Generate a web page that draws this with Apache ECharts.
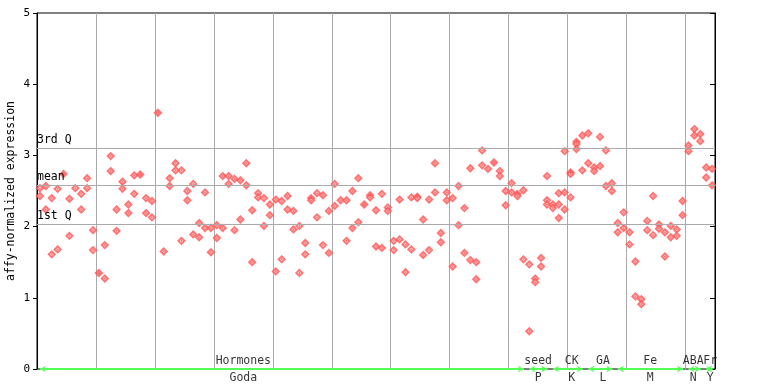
<!DOCTYPE html>
<html>
<head>
<meta charset="utf-8">
<script src="https://cdn.jsdelivr.net/npm/echarts@6/dist/echarts.min.js"></script>
<style>
html,body{margin:0;padding:0;background:#fff;}
#chart{width:768px;height:384px;}
</style>
</head>
<body>
<div id="chart"></div>
<script>
// ---- data: per-sample replicate values, split by experiment group ----
const yAxisTitle = 'affy-normalized expression';
const groupTop    = ['Hormones','seed','CK','GA','Fe','ABA','Fr'];
const groupBottom = ['Goda','P','K','L','M','N','Y'];
const groupLabelAt = [35, 85, 90.7, 96, 104, 111.3, 114.2];

const hormonesValues = [
  [2.54,2.43],[2.57,2.24],[2.40,1.61],[2.53,1.68],[2.74],[2.39,1.87],[2.54],[2.46,2.24],[2.68,2.54],[1.95,1.67],
  [1.35],[1.74,1.27],[2.99,2.78],[2.24,1.94],[2.63,2.53],[2.31,2.19],[2.72,2.46],[2.73],[2.40,2.19],[2.36,2.13],
  [3.60],[1.65],[2.68,2.57],[2.89,2.79],[2.79,1.80],[2.50,2.37],[2.60,1.89],[2.05,1.85],[2.48,1.98],[1.98,1.64],
  [2.02,1.84],[2.71,1.98],[2.71,2.60],[2.67,1.95],[2.65,2.10],[2.89,2.58],[2.23,1.50],[2.47,2.41],[2.40,2.01],[2.31,2.16],
  [2.38,1.37],[2.36,1.54],[2.43,2.24],[2.22,1.96],[2.01,1.35],[1.77,1.61],[2.40,2.37],[2.47,2.13],[2.44,1.74],[2.22,1.63],
  [2.60,2.29],[2.37],[2.37,1.80],[2.50,1.98],[2.68,2.06],[2.31],[2.44,2.41],[2.23,1.72],[2.46,1.70],[2.27,2.22],
  [1.80,1.67],[2.38,1.82],[1.75,1.36],[2.41,1.68],[2.42,2.40],[2.10,1.60],[2.38,1.67],[2.89,2.48],[1.91,1.78],[2.48,2.37],
  [2.40,1.44],[2.57,2.02],[2.26,1.63],[2.82,1.53],[1.50,1.26],[3.07,2.86],[2.81],[2.90],[2.78,2.71],[2.50,2.30],
  [2.61,2.48],[2.46,2.43],[2.51,1.54]
];
const seedValues = [[1.47,0.53],[1.27,1.22],[1.56,1.44],[2.71,2.37,2.31]];
const ckValues   = [[2.31,2.26],[2.47,2.31,2.12],[3.06,2.48,2.24],[2.76,2.74,2.41],[3.19,3.16,3.09],[3.28,2.79]];
const gaValues   = [[3.31,2.89],[2.83,2.78],[3.26,2.85],[3.07,2.57],[2.61,2.50]];
const feValues   = [[2.05,1.92],[2.20,1.98],[1.92,1.75],[1.51,1.02],[0.98,0.91],[2.08,1.95],[2.43,1.88],[2.03,1.97],[1.92,1.58],[2.01,1.85],[1.96,1.87],[2.36,2.16]];
const abaValues  = [[3.14,3.06],[3.37,3.28],[3.30,3.20]];
const frValues   = [[2.83,2.69],[2.81,2.58]];
const highlightedSamples = [4, 10, 17, 20, 55, 77];

const statNames  = ['3rd Q','mean','1st Q'];
const statValues = [3.10, 2.58, 2.03];
const yTicks = [0,1,2,3,4,5];

// ---- build series data ----
const groups = [hormonesValues, seedValues, ckValues, gaValues, feValues, abaValues, frValues];
const hollow = [], filled = [], groupStart = [], groupEnd = [];
let g = 0;
groups.forEach(arr => {
  groupStart.push(g);
  arr.forEach(vals => {
    vals.forEach(v => {
      (highlightedSamples.includes(g) ? filled : hollow).push([g + 0.5, v]);
    });
    g++;
  });
  groupEnd.push(g);
});
const total = g;

const font = 'DejaVu Sans Mono';
const red = '#ff5252';
const green = '#55ff55';

const chart = echarts.init(document.getElementById('chart'));
chart.setOption({
  animation: false,
  backgroundColor: '#fff',
  grid: {left: 37, right: 53, top: 13, bottom: 15, show: true, borderColor: '#000', borderWidth: 1,
         containLabel: false, outerBoundsMode: 'none'},
  graphic: [{
    type: 'text', x: 11.5, y: 191, rotation: Math.PI / 2,
    style: {text: yAxisTitle, font: '11.5px "DejaVu Sans Mono"', fill: '#000', align: 'center', verticalAlign: 'middle'}
  }],
  xAxis: {
    type: 'value', min: 0, max: total, interval: 10,
    axisLine: {show: false},
    axisTick: {show: false},
    axisLabel: {show: false},
    splitLine: {show: true, lineStyle: {color: '#aaaaaa', width: 1}}
  },
  yAxis: [{
    type: 'value', min: yTicks[0], max: yTicks[yTicks.length-1], interval: 1,
    axisLine: {show: true, lineStyle: {color: '#000', width: 1}},
    axisTick: {show: true, length: 4, lineStyle: {color: '#000'}},
    axisLabel: {fontFamily: font, fontSize: 11, color: '#000', margin: 7},
    splitLine: {show: false}
  }, {
    type: 'value', min: yTicks[0], max: yTicks[yTicks.length-1], interval: 1, position: 'right',
    axisLine: {show: true, lineStyle: {color: '#000', width: 1}},
    axisTick: {show: true, inside: true, length: 5, lineStyle: {color: '#000'}},
    axisLabel: {show: false},
    splitLine: {show: false}
  }],
  series: [
    {
      type: 'scatter', data: hollow, symbol: 'emptyDiamond', symbolSize: 6,
      itemStyle: {color: red, borderColor: red, borderWidth: 1},
      markLine: {
        silent: true, symbol: 'none',
        lineStyle: {color: '#aaaaaa', width: 1, type: 'solid'},
        label: {position: 'insideStartTop', distance: [0, 2], fontFamily: font, fontSize: 11.5, color: '#000', padding: 0},
        data: statValues.map((v, i) => ({yAxis: v, name: statNames[i], label: {formatter: statNames[i]}}))
      },
      z: 3
    },
    {
      type: 'scatter', data: hollow, symbol: 'diamond', symbolSize: 2.5,
      itemStyle: {color: red}, z: 3, silent: true
    },
    {
      type: 'scatter', data: filled, symbol: 'diamond', symbolSize: 9,
      itemStyle: {color: red}, z: 4
    },
    {
      type: 'line', data: [], clip: false,
      markLine: {
        silent: true, symbol: ['arrow', 'arrow'], symbolSize: [5, 6],
        lineStyle: {color: green, width: 2, type: 'solid'},
        label: {show: false},
        data: groupStart.map((s, i) => [{coord: [s + 0.5, 0]}, {coord: [groupEnd[i] - 0.4, 0]}])
      },
      z: 5
    },
    {
      type: 'scatter', clip: false, symbolSize: 0, silent: true,
      data: groupTop.map((t, i) => ({value: [groupLabelAt[i], 0], name: t})),
      label: {show: true, position: 'top', distance: 2, formatter: p => p.name, fontFamily: font, fontSize: 11.5, color: '#000'},
      z: 6
    },
    {
      type: 'scatter', clip: false, symbolSize: 0, silent: true,
      data: groupBottom.map((t, i) => ({value: [groupLabelAt[i], 0], name: t})),
      label: {show: true, position: 'bottom', distance: 3, formatter: p => p.name, fontFamily: font, fontSize: 11.5, color: '#000'},
      z: 6
    }
  ]
});
</script>
</body>
</html>
